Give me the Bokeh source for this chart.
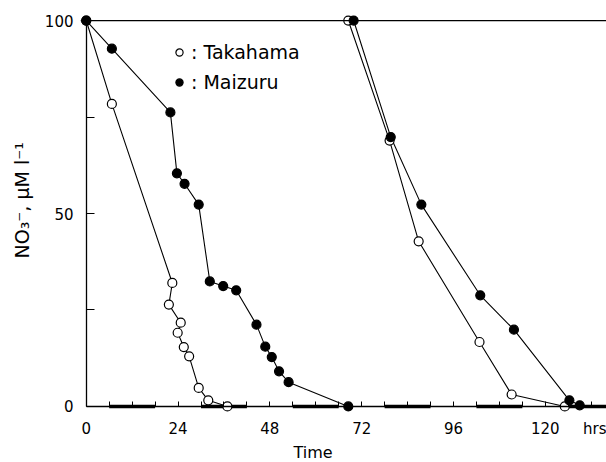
from bokeh.plotting import figure
from bokeh.models import FixedTicker, Span, Legend, LegendItem, Range1d, LinearAxis, Title
from bokeh.embed import file_html
from bokeh.resources import INLINE

# ---- data ----
tak1_t = [0, 6.7, 22.5, 21.6, 24.7, 23.9, 25.5, 26.9, 29.4, 31.9, 36.9]
tak1_v = [100, 78.4, 32.0, 26.4, 21.7, 19.1, 15.4, 13.0, 4.8, 1.6, 0]
mai1_t = [0, 6.7, 22.0, 23.7, 25.7, 29.4, 32.3, 35.8, 39.2, 44.5, 46.8, 48.5, 50.4, 52.9, 68.5]
mai1_v = [100, 92.7, 76.2, 60.4, 57.7, 52.3, 32.4, 31.2, 30.1, 21.2, 15.5, 12.8, 9.1, 6.3, 0]
tak2_t = [68.5, 79.3, 86.9, 102.8, 111.2, 125.1]
tak2_v = [100, 68.9, 42.8, 16.7, 3.1, 0]
mai2_t = [69.9, 79.6, 87.6, 103.0, 111.8, 126.3, 129.0]
mai2_v = [100, 69.8, 52.3, 28.8, 19.9, 1.6, 0.3]

dark_start = [6, 30, 54, 78, 102, 126]
dark_end = [18, 42, 66, 90, 114, 138]

x_major = [0, 24, 48, 72, 96, 120]
x_minor = [6, 12, 18, 30, 36, 42, 54, 60, 66, 78, 84, 90, 102, 108, 114, 126, 132]
x_unit_pos = 133
x_unit = "hrs"
y_major = [0, 50, 100]
y_minor = [25, 75]

FONT = "DejaVu Sans"

p = figure(width=606, height=462, output_backend="svg", toolbar_location=None,
           x_range=Range1d(-1.5, 136.0), y_range=Range1d(-2.6, 102.6),
           min_border_left=80, min_border_right=0, min_border_top=10, min_border_bottom=46)
p.outline_line_color = None
p.xgrid.visible = False
p.ygrid.visible = False

# label-only axes at the frame edges
p.xaxis.ticker = FixedTicker(ticks=x_major + [x_unit_pos])
p.xaxis.major_label_overrides = {x_unit_pos: x_unit}
p.yaxis.ticker = FixedTicker(ticks=y_major)
for ax in (p.xaxis, p.yaxis):
    ax.axis_line_color = None
    ax.major_tick_line_color = None
    ax.minor_tick_line_color = None
    ax.major_tick_in = 0
    ax.major_tick_out = 0
    ax.minor_tick_in = 0
    ax.minor_tick_out = 0
    ax.major_label_text_font = FONT
    ax.major_label_text_font_size = "15px"
    ax.major_label_text_color = "black"
p.xaxis.major_label_standoff = 3
p.yaxis.major_label_standoff = 7

# axis lines with inward ticks, drawn at zero
xline = LinearAxis(fixed_location=0, bounds=(0, 136),
                   ticker=FixedTicker(ticks=x_major, minor_ticks=x_minor),
                   major_label_overrides={t: "" for t in x_major})
yline = LinearAxis(fixed_location=0, bounds=(0, 100),
                   ticker=FixedTicker(ticks=y_major, minor_ticks=y_minor),
                   major_label_overrides={t: "" for t in y_major})
for ax, tl in ((xline, 5), (yline, 8)):
    ax.major_tick_out = 0
    ax.minor_tick_out = 0
    ax.major_tick_in = tl
    ax.minor_tick_in = tl
    ax.axis_line_color = "black"
    ax.axis_line_width = 1.3
    ax.major_tick_line_color = "black"
    ax.minor_tick_line_color = "black"
    ax.major_label_text_font_size = "1px"
    ax.major_label_standoff = 0
p.add_layout(xline, "below")
p.add_layout(yline, "left")

# top line at 100
p.add_layout(Span(location=100, dimension="width", line_color="black", line_width=1.2))

# dark periods on the time axis
p.segment(x0=dark_start, y0=[0] * len(dark_start), x1=dark_end, y1=[0] * len(dark_end),
          line_color="black", line_width=3.5)

# lines
for t, v in ((tak1_t, tak1_v), (mai1_t, mai1_v), (tak2_t, tak2_v), (mai2_t, mai2_v)):
    p.line(t, v, line_color="black", line_width=1.1)

# markers
r_tak = None
r_mai = None
for t, v in ((tak1_t, tak1_v), (tak2_t, tak2_v)):
    r_tak = p.scatter(t, v, size=9, marker="circle", fill_color="white",
                      line_color="black", line_width=1.2)
for t, v in ((mai1_t, mai1_v), (mai2_t, mai2_v)):
    r_mai = p.scatter(t, v, size=9, marker="circle", fill_color="black",
                      line_color="black", line_width=1.2)

legend = Legend(items=[LegendItem(label=": Takahama", renderers=[r_tak]),
                       LegendItem(label=": Maizuru", renderers=[r_mai])],
                location=(90, 323), glyph_width=18, glyph_height=18, spacing=8,
                label_standoff=3, padding=0, margin=0,
                border_line_color=None, background_fill_alpha=0,
                label_text_font=FONT, label_text_font_size="19px",
                label_text_color="black")
p.add_layout(legend, "center")

# axis captions
p.add_layout(Title(text="Time", align="left", offset=213, text_font=FONT,
                   text_font_size="16px", text_font_style="normal", text_color="black",
                   standoff=0), "below")
p.add_layout(Title(text="NO₃⁻, μM l⁻¹", align="left", offset=158, text_font=FONT,
                   text_font_size="19px", text_font_style="normal", text_color="black",
                   standoff=17), "left")

open("out.html", "w").write(file_html(p, INLINE))
